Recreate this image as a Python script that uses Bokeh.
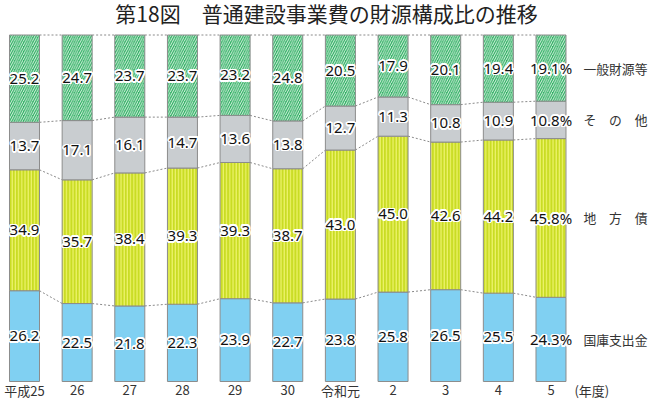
import math
from bokeh.plotting import figure
from bokeh.models import ColumnDataSource, Range1d
from bokeh.core.properties import value
from bokeh.embed import file_html
from bokeh.resources import INLINE

years = ["平成25", "26", "27", "28", "29", "30", "令和元", "2", "3", "4", "5"]
kokko = [26.2, 22.5, 21.8, 22.3, 23.9, 22.7, 23.8, 25.8, 26.5, 25.5, 24.3]
chihousai = [34.9, 35.7, 38.4, 39.3, 39.3, 38.7, 43.0, 45.0, 42.6, 44.2, 45.8]
sonota = [13.7, 17.1, 16.1, 14.7, 13.6, 13.8, 12.7, 11.3, 10.8, 10.9, 10.8]
ippan = [25.2, 24.7, 23.7, 23.7, 23.2, 24.8, 20.5, 17.9, 20.1, 19.4, 19.1]
series_names = ["国庫支出金", "地　方　債", "そ　の　他", "一般財源等"]
title_text = "第18図　普通建設事業費の財源構成比の推移"
unit_text = "(年度)"

series = [kokko, chihousai, sonota, ippan]
fills = ["#80d0f2", "#c9dc24", "#c9cdd0", "#2fb062"]
hatches = [None, "|", None, "/"]
hatch_colors = [None, "#eef36c", None, "#ffffff"]
hatch_scales = [12, 3.2, 12, 4.6]
hatch_weights = [1, 1.2, 1, 0.85]

W, H = 650, 399
n = len(years)
x = list(range(n))
bw = 0.57

p = figure(width=W, height=H, output_backend="svg", toolbar_location=None,
           x_range=Range1d(-0.4558, 11.890), y_range=Range1d(-5.195, 109.957),
           min_border=0, min_border_left=0, min_border_right=0,
           min_border_top=0, min_border_bottom=0,
           x_axis_location=None, y_axis_location=None)
p.outline_line_color = None
p.grid.visible = False
p.background_fill_color = "white"
p.border_fill_color = "white"

halo_offsets = [(1.6 * math.cos(a * math.pi / 8), 1.6 * math.sin(a * math.pi / 8))
                for a in range(16)]

bottom = [0.0] * n
bounds = []
label_sources = []
for k, vals in enumerate(series):
    top = [b + v for b, v in zip(bottom, vals)]
    src = ColumnDataSource(dict(x=x, bottom=bottom, top=top))
    kw = {}
    if hatches[k]:
        kw = dict(hatch_pattern=hatches[k], hatch_color=hatch_colors[k],
                  hatch_scale=hatch_scales[k], hatch_weight=hatch_weights[k])
    p.vbar(x="x", bottom="bottom", top="top", width=bw, source=src,
           fill_color=fills[k], line_color="#8c8c8c", line_width=1, **kw)
    mid = [(b + t) / 2 for b, t in zip(bottom, top)]
    labels = [f"{v:.1f}" + ("%" if i == n - 1 else "") for i, v in enumerate(vals)]
    label_sources.append(ColumnDataSource(dict(x=x, y=mid, t=labels)))
    # right-side series label
    p.text(x=[10.617], y=[mid[-1]], text=[series_names[k]],
           text_align="left", text_baseline="middle",
           text_font=value("Noto Sans CJK JP"), text_font_size="12.8px",
           text_color="#333333")
    bounds.append(top)
    bottom = top

# dashed connectors
x0s, x1s, y0s, y1s = [], [], [], []
for b in bounds:
    for i in range(n - 1):
        x0s.append(i + bw / 2)
        x1s.append(i + 1 - bw / 2)
        y0s.append(b[i])
        y1s.append(b[i + 1])
p.segment(x0=x0s, y0=y0s, x1=x1s, y1=y1s, line_color="#8a8a8a",
          line_width=1, line_dash="2 2")

# value labels with white halo
for lsrc in label_sources:
    for dx, dy in halo_offsets:
        p.text(x="x", y="y", text="t", source=lsrc, text_align="center",
               text_baseline="middle", text_font=value("Noto Sans"),
               text_font_size="15px", text_color="white",
               x_offset=dx, y_offset=dy)
for lsrc in label_sources:
    p.text(x="x", y="y", text="t", source=lsrc, text_align="center",
           text_baseline="middle", text_font=value("Noto Sans"),
           text_font_size="15px", text_color="#111111")

# year labels
p.text(x=x, y=[-2.597] * n, text=years, text_align="center",
       text_baseline="middle", text_font=value("Noto Sans CJK JP"),
       text_font_size="13px", text_color="#333333")
p.text(x=[10.446], y=[-2.597], text=[unit_text], text_align="left",
       text_baseline="middle", text_font=value("Noto Sans CJK JP"),
       text_font_size="13px", text_color="#333333")

# title
p.text(x=[5.736], y=[106.35], text=[title_text], text_align="center",
       text_baseline="middle", text_font=value("Noto Sans CJK JP"),
       text_font_size="21px", text_color="#222222")

open("out.html", "w").write(file_html(p, INLINE))
